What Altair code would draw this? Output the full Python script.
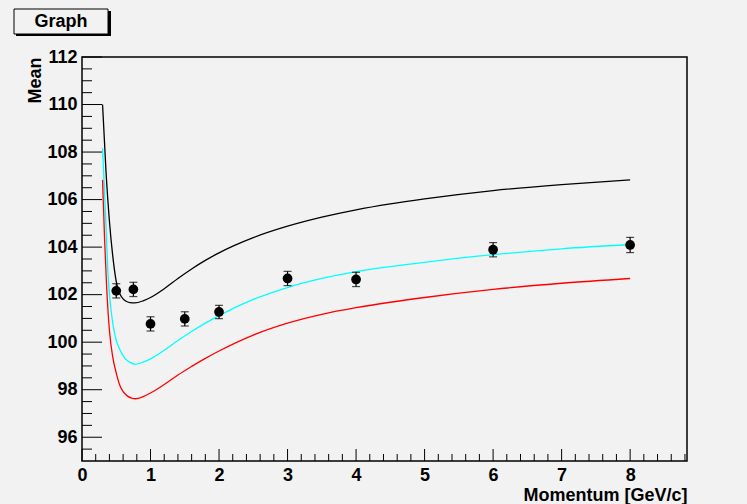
import altair as alt
import pandas as pd

# ---------------- data ----------------
pts_x = [0.5, 0.75, 1.0, 1.5, 2.0, 3.0, 4.0, 6.0, 8.0]
pts_y = [102.16, 102.22, 100.77, 100.98, 101.27, 102.68, 102.64, 103.89, 104.09]
pts_err = [0.30, 0.30, 0.30, 0.30, 0.28, 0.30, 0.30, 0.30, 0.32]

black_x = [0.30, 0.35, 0.40, 0.45, 0.50, 0.55, 0.60, 0.65, 0.70, 0.77, 0.90, 1.0, 1.2, 1.4, 1.6,
           1.8, 2.0, 2.5, 3.0, 3.5, 4.0, 4.5, 5.0, 6.0, 7.0, 8.0]
black_y = [110.0, 107.2, 105.1, 103.6, 102.55, 102.05, 101.82, 101.71, 101.66, 101.65, 101.75, 101.88,
           102.25, 102.68, 103.08, 103.44, 103.76, 104.4, 104.88, 105.26, 105.57, 105.82, 106.03,
           106.38, 106.63, 106.83]

cyan_x = [0.30, 0.34, 0.385, 0.43, 0.48, 0.55, 0.63, 0.70, 0.78, 0.90, 1.0, 1.2, 1.4, 1.6,
          1.8, 2.0, 2.5, 3.0, 3.5, 4.0, 4.5, 5.0, 6.0, 7.0, 8.0]
cyan_y = [108.16, 105.6, 102.6, 101.2, 100.3, 99.7, 99.31, 99.15, 99.07, 99.17, 99.3, 99.66, 100.07, 100.45,
          100.8, 101.12, 101.8, 102.3, 102.68, 102.97, 103.18, 103.36, 103.68, 103.93, 104.11]

red_x = [0.30, 0.33, 0.36, 0.40, 0.45, 0.50, 0.55, 0.60, 0.66, 0.72, 0.78, 0.90, 1.0, 1.2, 1.4,
         1.6, 1.8, 2.0, 2.5, 3.0, 3.5, 4.0, 4.5, 5.0, 6.0, 7.0, 8.0]
red_y = [106.83, 104.3, 102.3, 100.5, 99.35, 98.7, 98.2, 97.92, 97.74, 97.65, 97.62, 97.72, 97.86, 98.22, 98.62,
         98.98, 99.32, 99.63, 100.3, 100.8, 101.17, 101.45, 101.68, 101.88, 102.22, 102.48, 102.68]

x_labels = [0, 1, 2, 3, 4, 5, 6, 7, 8]
y_labels = [96, 98, 100, 102, 104, 106, 108, 110, 112]
x_minor = [round(i * 0.2, 1) for i in range(1, 45) if i % 5 != 0]
y_minor = [95 + 0.5 * i for i in range(1, 34) if i % 4 != 2]

X_DOMAIN = [0, 8.83]
Y_DOMAIN = [95, 112]
W, H = 605, 404
FONT = "Liberation Sans"
FS = 17

# ---------------- tables ----------------
pts = pd.DataFrame({"x": pts_x, "y": pts_y, "lo": [y - e for y, e in zip(pts_y, pts_err)],
                    "hi": [y + e for y, e in zip(pts_y, pts_err)]})
curves = pd.concat([
    pd.DataFrame({"x": black_x, "y": black_y, "s": "black", "o": range(len(black_x))}),
    pd.DataFrame({"x": cyan_x, "y": cyan_y, "s": "cyan", "o": range(len(cyan_x))}),
    pd.DataFrame({"x": red_x, "y": red_y, "s": "red", "o": range(len(red_x))}),
])
one = pd.DataFrame({"a": [0]})

xs = alt.Scale(domain=X_DOMAIN, nice=False, zero=False)
ys = alt.Scale(domain=Y_DOMAIN, nice=False, zero=False)

xaxis = alt.Axis(values=x_labels, ticks=False, domain=False, grid=False, labelPadding=5, labelFlush=False,
                 labelFont=FONT, labelFontSize=FS + 1, labelFontWeight="bold", labelColor="black",
                 title="Momentum [GeV/c]", titleFont=FONT, titleFontSize=FS + 1, titleFontWeight="bold",
                 titleColor="black", titleAnchor="end", titleAlign="right", titleX=W, titleY=39,
                 titleBaseline="alphabetic", format="d")
yaxis = alt.Axis(values=y_labels, ticks=False, domain=False, grid=False, labelPadding=5, labelFlush=False,
                 labelFont=FONT, labelFontSize=FS + 1, labelFontWeight="bold", labelColor="black",
                 title="Mean", titleFont=FONT, titleFontSize=FS + 1, titleFontWeight="bold",
                 titleColor="black", titleAngle=270, titleAlign="right", titleAnchor="end",
                 titleX=-47, titleY=0, titleBaseline="middle", format="d")

# curves (carry the axes)
lines = alt.Chart(curves).mark_line(interpolate="monotone", strokeWidth=1.3, clip=True).encode(
    x=alt.X("x:Q", scale=xs, axis=xaxis),
    y=alt.Y("y:Q", scale=ys, axis=yaxis),
    color=alt.Color("s:N", scale=alt.Scale(domain=["black", "cyan", "red"],
                                            range=["#000000", "#00ffff", "#ff0000"]), legend=None),
    order="o:Q",
)

# inward ticks
ymaj = alt.Chart(pd.DataFrame({"v": y_labels})).mark_rule(color="black", strokeWidth=1).encode(
    y=alt.Y("v:Q", scale=ys), x=alt.value(0), x2=alt.value(20))
ymin = alt.Chart(pd.DataFrame({"v": y_minor})).mark_rule(color="black", strokeWidth=1).encode(
    y=alt.Y("v:Q", scale=ys), x=alt.value(0), x2=alt.value(10))
xmaj = alt.Chart(pd.DataFrame({"v": x_labels})).mark_rule(color="black", strokeWidth=1).encode(
    x=alt.X("v:Q", scale=xs), y=alt.value(H), y2=alt.value(H - 12))
xmin = alt.Chart(pd.DataFrame({"v": x_minor})).mark_rule(color="black", strokeWidth=1).encode(
    x=alt.X("v:Q", scale=xs), y=alt.value(H), y2=alt.value(H - 7))

# data points with error bars
err = alt.Chart(pts).mark_rule(color="black", strokeWidth=1.2).encode(
    x=alt.X("x:Q", scale=xs), y=alt.Y("lo:Q", scale=ys), y2="hi:Q")
cap_lo = alt.Chart(pts).mark_tick(color="black", orient="horizontal", size=8, thickness=1.2).encode(
    x=alt.X("x:Q", scale=xs), y=alt.Y("lo:Q", scale=ys))
cap_hi = alt.Chart(pts).mark_tick(color="black", orient="horizontal", size=8, thickness=1.2).encode(
    x=alt.X("x:Q", scale=xs), y=alt.Y("hi:Q", scale=ys))
dots = alt.Chart(pts).mark_circle(color="black", opacity=1, size=95).encode(
    x=alt.X("x:Q", scale=xs), y=alt.Y("y:Q", scale=ys))

# title box "Graph"
shadow = alt.Chart(one).mark_rect(color="black").encode(
    x=alt.value(-66), x2=alt.value(29), y=alt.value(-46), y2=alt.value(-21))
box = alt.Chart(one).mark_rect(fill="#f2f2f2", stroke="black", strokeWidth=1).encode(
    x=alt.value(-68), x2=alt.value(26), y=alt.value(-48), y2=alt.value(-23))
boxtext = alt.Chart(one).mark_text(text="Graph", font=FONT, fontSize=18, fontWeight="bold",
                                   color="black", align="center", baseline="middle").encode(
    x=alt.value(-21), y=alt.value(-35))

chart = alt.layer(lines, ymaj, ymin, xmaj, xmin, err, cap_lo, cap_hi, dots, shadow, box, boxtext).properties(
    width=W, height=H,
    autosize=alt.AutoSizeParams(type="none"),
    padding={"left": 82, "top": 57, "right": 60, "bottom": 43},
    background="#f2f2f2",
).configure_view(
    fill="#f2f2f2", stroke="black", strokeWidth=1.5,
)

chart.save("out.html", embed_options={"renderer": "svg", "actions": False})
